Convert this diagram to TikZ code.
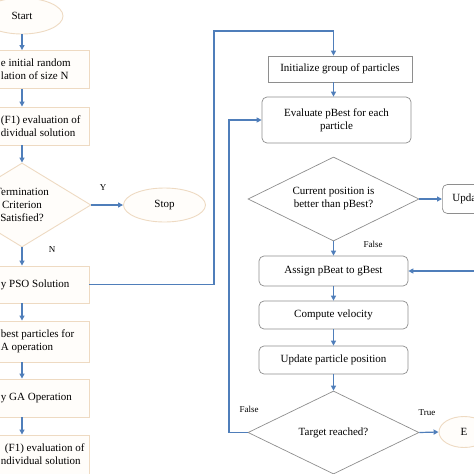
\documentclass[tikz,border=0pt]{standalone}
\usepackage{fontspec}
\setmainfont{Liberation Serif}
\usepackage{xcolor}
\usepackage{tikz}
\usetikzlibrary{shapes.geometric,arrows.meta}
\definecolor{linkblue}{HTML}{4F7EBA}
\definecolor{tanline}{HTML}{EEDAC2}
\definecolor{creamfill}{HTML}{FFFDFA}
\definecolor{greyline}{HTML}{8E8E8E}

\begin{document}
\begin{tikzpicture}[x=1pt, y=-1pt,
    every node/.style={font=\fontsize{11}{13}\selectfont},
    lbox/.style={draw=tanline, fill=creamfill, line width=0.9pt, text width=84pt, align=flush left, inner xsep=4pt, minimum height=38pt},
    lterm/.style={draw=tanline, fill=creamfill, line width=0.9pt, ellipse, minimum width=82pt, minimum height=34pt},
    ldecide/.style={draw=tanline, fill=creamfill, line width=0.9pt, diamond, aspect=1.6, inner sep=0pt, minimum width=138pt, minimum height=84pt, align=center},
    rbox/.style={draw=greyline, line width=0.7pt, rounded corners=5pt, minimum width=149pt, minimum height=29pt, align=center},
    choice/.style={draw=greyline, line width=0.7pt, diamond, aspect=2, inner sep=0pt, minimum width=171pt, minimum height=84pt, align=center},
    flow/.style={draw=linkblue, line width=1.2pt, -{Triangle[length=5pt,width=5pt]}},
    tag/.style={font=\fontsize{9}{10}\selectfont}]
    \useasboundingbox (0,0) rectangle (474,474);

    % GA side
    \node[lterm, minimum height=36pt] (start) at (22,16) {Start};
    \node[lbox] (gen) at (43,69.5) {e initial random\\lation of size N};
    \node[lbox] (fit) at (43,126) {(F1) evaluation of\\dividual solution};
    \node[ldecide] (term) at (22,205) {Termination\\Criterion\\Satisfied?};
    \node[lterm] (stop) at (164.5,205) {Stop};
    \node[lbox, minimum height=37pt] (apso) at (43,284.5) {y PSO Solution};
    \node[lbox, minimum height=41pt] (sel) at (43,341.5) {best particles for\\A operation};
    \node[lbox] (aga) at (43,398) {y GA Operation};
    \node[lbox, minimum height=39pt] (fit2) at (43,454.5) {\hspace*{4pt}(F1) evaluation of\\ndividual solution};

    % PSO side
    \node[draw=greyline, line width=0.7pt, minimum width=144pt, minimum height=26pt] (init) at (340,69) {Initialize group of particles};
    \node[rbox, minimum height=46pt] (eval) at (336.5,120) {Evaluate pBest for each\\particle};
    \node[choice] (cur) at (333.5,199) {Current position is\\better than pBest?};
    \node[rbox, anchor=west, minimum width=70pt, text width=50pt, align=flush left, inner xsep=10pt] (upd) at (442,199) {Upda};
    \node[rbox, minimum height=30pt] (assign) at (333.5,271) {Assign pBeat to gBest};
    \node[rbox, minimum height=28pt] (vel) at (333.5,315) {Compute velocity};
    \node[rbox, minimum height=28pt] (pos) at (333.5,360) {Update particle position};
    \node[choice, minimum height=83pt] (target) at (333.5,432.5) {Target reached?};
    \node[lterm, minimum width=50pt, minimum height=31pt] (endn) at (464,432) {E};

    % Labels
    \node[tag] (ylab) at (103,188) {Y};
    \node[tag] (nlab) at (52,250) {N};
    \node[tag] (fone) at (373,244) {False};
    \node[tag] (ftwo) at (249,409) {False};
    \node[tag] (tone) at (427,413) {True};

    % Bends
    \coordinate (loopA) at (214,31);
    \coordinate (loopB) at (229,300);
    \coordinate (updin) at (480,271);

    % Connections
    \draw[flow] (start.south) -- (gen.north -| start);
    \draw[flow] (gen.south -| start) -- (fit.north -| start);
    \draw[flow] (fit.south -| start) -- (term.north);
    \draw[flow] (term.east) -- (stop.west);
    \draw[flow] (term.south) -- (apso.north -| term);
    \draw[flow] (apso.south -| term) -- (sel.north -| term);
    \draw[flow] (sel.south -| term) -- (aga.north -| term);
    \draw[flow] (aga.south -| term) -- (fit2.north -| term);
    \draw[flow] (apso.east) -| (loopA) -| (init.north -| cur);
    \draw[flow] (init.south -| cur) -- (eval.north -| cur);
    \draw[flow] (cur.east) -- (upd.west);
    \draw[flow] (cur.south) -- (assign.north);
    \draw[flow] (updin) -- (assign.east);
    \draw[flow] (assign.south) -- (vel.north);
    \draw[flow] (vel.south) -- (pos.north);
    \draw[flow] (pos.south) -- (target.north);
    \draw[flow] (target.east) -- (endn.west);
    \draw[flow] (target.west) -| (loopB) |- (eval.west);
\end{tikzpicture}
\end{document}
